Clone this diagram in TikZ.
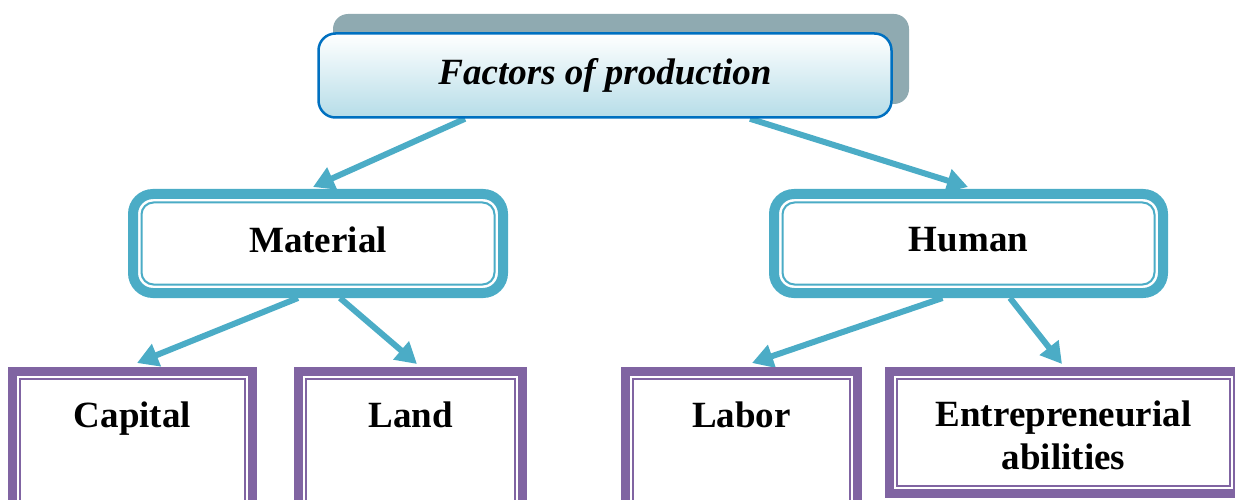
\documentclass[tikz,border=0pt]{standalone}
\usepackage{fontspec}
\setmainfont{Liberation Serif}
\usetikzlibrary{arrows.meta}

\definecolor{aqualine}{HTML}{4BACC6}
\definecolor{plumline}{HTML}{8064A2}
\definecolor{blueedge}{HTML}{0070C0}
\definecolor{shadowgrey}{HTML}{8FAAB1}
\definecolor{iceblue}{HTML}{B6DDE8}

\pgfdeclarelayer{links}
\pgfsetlayers{links,main}

\begin{document}
\begin{tikzpicture}[x=1pt,y=-1pt,
  every node/.style={font=\fontsize{37}{43}\selectfont\bfseries},
  link/.style={draw=aqualine, line width=6pt, -{Triangle[length=21pt,width=23pt]}},
  groupbox/.style={draw=aqualine, fill=white, line width=10pt, rounded corners=20pt,
    minimum height=99pt, inner sep=0pt, text depth=8pt,
    path picture={\draw[aqualine, line width=2pt, rounded corners=12pt]
      ([shift={(8.5pt,-8.5pt)}]path picture bounding box.north west) rectangle
      ([shift={(-8.5pt,8.5pt)}]path picture bounding box.south east);}},
  factorbox/.style={draw=plumline, fill=white, line width=9pt, inner sep=0pt,
    path picture={\draw[plumline, line width=2pt]
      ([shift={(7.5pt,-7.5pt)}]path picture bounding box.north west) rectangle
      ([shift={(-7.5pt,7.5pt)}]path picture bounding box.south east);}},
  caption/.style={inner sep=0pt, anchor=base, align=center},
]
\useasboundingbox (0,0) rectangle (1235,500);

% title box with its offset shadow
\node[fill=shadowgrey, rounded corners=15pt, minimum width=576pt, minimum height=90pt, inner sep=0pt]
  (topshadow) at (621,59) {};
\node[draw=blueedge, line width=2.5pt, rounded corners=17pt, shading=axis,
  top color=white, middle color=iceblue!45, bottom color=iceblue,
  minimum width=573pt, minimum height=84pt, inner sep=0pt]
  (top) at (605,75.5) {\textit{Factors of production}};

% second level
\node[groupbox, minimum width=370pt] (mat) at (318,243.5) {Material};
\node[groupbox, minimum width=389pt] (hum) at (968.5,243.5) {Human};

% third level
\node[factorbox, minimum width=240pt, minimum height=143.5pt] (cap) at (132.5,443.25) {};
\node[factorbox, minimum width=224pt, minimum height=143.5pt] (land) at (410.5,443.25) {};
\node[factorbox, minimum width=232pt, minimum height=143.5pt] (labor) at (741.5,443.25) {};
\node[factorbox, minimum width=348pt, minimum height=122pt] (ent) at (1063.5,432.5) {};

\node[caption] (capT) at (132.5,427) {Capital};
\node[caption] (landT) at (410.5,427) {Land};
\node[caption] (laborT) at (741.5,427) {Labor};
\node[inner sep=0pt, anchor=north, align=center] (entT) at (1063.5,400.5) {Entrepreneurial\\abilities};

% arrow tips
\coordinate (matTip) at (313,187);
\coordinate (humTip) at (968,187);
\coordinate (capTip) at (137,363);
\coordinate (landTip) at (417,364);
\coordinate (laborTip) at (752,363);
\coordinate (entTip) at (1062,364);

\begin{pgfonlayer}{links}
  \draw[link] ([xshift=-140pt]top.south) -- (matTip);
  \draw[link] ([xshift=145pt]top.south) -- (humTip);
  \draw[link] ([xshift=-20pt]mat.south) -- (capTip);
  \draw[link] ([xshift=22pt]mat.south) -- (landTip);
  \draw[link] ([xshift=-26pt]hum.south) -- (laborTip);
  \draw[link] ([xshift=41.5pt]hum.south) -- (entTip);
\end{pgfonlayer}
\end{tikzpicture}
\end{document}
